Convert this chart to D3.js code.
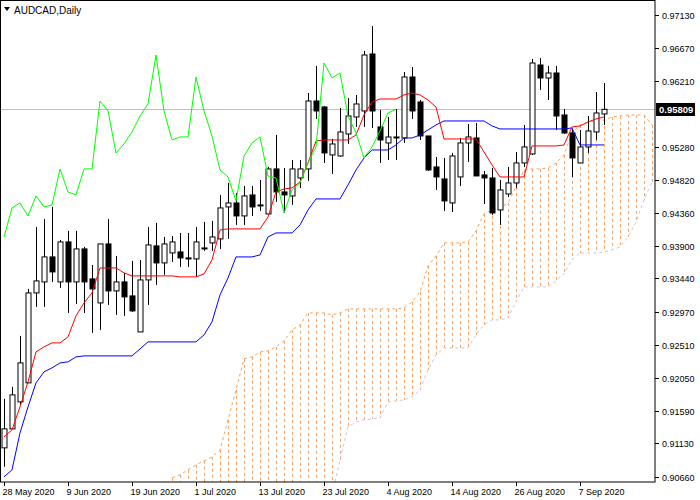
<!DOCTYPE html>
<html>
<head>
<meta charset="utf-8">
<script src="https://cdn.jsdelivr.net/npm/d3@7"></script>
<style>
  body { margin: 0; background: #fff; }
  svg { display: block; font-family: "Liberation Sans", Arial, sans-serif; }
</style>
</head>
<body>
<svg width="700" height="500"></svg>
<script>
// daily AUDCAD candles
const open = [.91068,.91334,.91712,.91978,.93238,.93392,.93742,.93392,.93952,.93392,.93854,.93434,.93098,.93924,.93266,.93392,
  .93196,.92692,.9342,.93896,.93658,.93798,.93812,.93728,.93714,.93868,.93938,.93994,.94442,.94498,.94316,.9461,
  .94456,.94344,.94974,.94652,.94596,.94848,.94974,.95926,.95842,.9517,.95156,.95464,.95702,.95786,.96584,.95562,
  .95338,.95422,.95408,.96262,.95912,.95436,.95002,.94834,.94498,.94862,.95338,.95408,.9489,.94848,.944,.94624,
  .94778,.95058,.95184,.9643,.96248,.96318,.9573,.95478,.95058,.95282,.95492,.95744];
const close = [.91334,.9181,.92258,.93238,.93406,.93742,.93532,.93952,.93392,.93854,.93392,.93294,.93924,.93266,.93392,.93182,
  .92986,.9342,.9391,.93658,.93924,.93952,.93728,.93714,.93952,.93868,.94022,.94428,.94498,.94316,.94596,.94442,
  .9447,.94974,.94652,.94610,.94974,.94974,.95926,.95786,.95198,.95324,.95492,.95716,.95884,.9657,.95786,.9538,
  .95422,.95422,.96262,.95786,.95436,.9496,.94862,.94526,.95156,.95338,.95422,.94876,.94848,.94358,.9468,.94778,
  .95058,.95282,.96458,.96248,.96318,.95716,.95478,.95128,.95282,.95506,.95758,.95809];
const high = [.91754,.91922,.92636,.93294,.94162,.94274,.94442,.9398,.94106,.94106,.93882,.9363,.93924,.94274,.93756,.93518,
  .93686,.937,.94162,.94218,.94022,.94036,.94078,.94078,.94162,.94232,.94246,.9461,.94778,.94638,.94736,.94736,
  .9482,.95002,.9545,.94988,.951,.951,.96038,.96416,.95856,.95394,.95828,.95968,.9601,.96626,.96976,.958,
  .95702,.95814,.96332,.96402,.9594,.9496,.95142,.95128,.95198,.95408,.95604,.95618,.94946,.94988,.9482,.95002,
  .95212,.9559,.96514,.96528,.96416,.96416,.95814,.95534,.9552,.95716,.96052,.96178];
const low = [.90802,.91334,.9167,.91978,.93042,.93042,.93392,.93308,.92958,.93084,.92958,.92678,.9272,.9307,.9293,.92916,
  .92972,.92692,.9307,.9335,.9349,.93672,.93602,.93602,.93462,.93826,.93826,.93854,.93994,.9419,.9419,.94316,
  .94386,.94344,.94512,.94358,.9447,.94708,.94806,.95674,.95058,.94904,.95142,.95324,.95562,.95562,.95548,.95058,
  .951,.951,.95338,.95674,.9538,.94946,.9468,.94386,.94372,.94736,.95072,.94876,.94484,.9433,.9419,.94582,
  .94708,.95002,.9517,.9608,.9594,.9552,.95464,.94862,.95058,.95198,.9538,.9559];

// ichimoku lines as shown (tenkan / kijun per bar)
const tenkan = [.91222,.9132,.91642,.91992,.92412,.92482,.92538,.92538,.92622,.92916,.93098,.93238,.93588,.93588,.93588,.93518,
  .93476,.93476,.93476,.93476,.93476,.93476,.93462,.93462,.93462,.93504,.937,.9412,.94134,.94134,.94134,.94134,
  .94134,.94302,.94652,.94694,.94708,.94792,.95058,.95366,.9538,.9538,.9538,.9538,.9545,.9573,.95912,.95954,
  .95954,.95954,.9601,.96038,.9601,.9594,.95842,.95394,.95394,.95394,.95394,.95394,.95212,.9503,.94862,.94862,
  .94862,.94862,.95296,.95296,.95296,.95296,.9531,.95562,.95576,.95632,.95674,.95702];
const kijun = [.90662,.9076,.91278,.91642,.91978,.92132,.92188,.92258,.92272,.92342,.92356,.92356,.92356,.92356,.92356,.92356,
  .92356,.92454,.92552,.92552,.92552,.92552,.92552,.92552,.92552,.9265,.92832,.9321,.93448,.93742,.93742,.93742,
  .9377,.94022,.94078,.94078,.94078,.9419,.944,.94554,.94554,.94554,.94554,.9475,.9496,.95128,.9524,.9524,
  .9524,.9531,.95408,.95408,.9545,.9552,.9559,.95646,.95646,.95646,.95646,.95646,.95646,.95576,.95534,.95534,
  .95534,.95534,.95534,.95534,.95534,.95534,.95534,.95548,.9531,.9531,.9531,.9531];
// senkou spans, already shifted forward; first value sits on bar 21
const spanStart = 21;
const spanA = [.90648,.9069,.9076,.9083,.90886,.90942,.9104,.9146,.9188,.92314,.92342,.92412,.92426,.92482,.92566,.9272,
  .9279,.92958,.92958,.92958,.9293,.92958,.93014,.93014,.93014,.93014,.93014,.93014,.93014,.93028,.93112,.93252,
  .93616,.93756,.93938,.93938,.93938,.93952,.94106,.94344,.944,.94428,.94498,.94722,.9496,.94974,.94974,.94988,
  .95058,.9517,.95478,.9559,.95632,.95646,.9566,.95702,.95716,.9573,.9573,.9573,.9559];
const spanB = [.904,.904,.904,.904,.904,.904,.904,.904,.904,.904,.904,.904,.904,.904,.904,.904,
  .904,.904,.904,.904,.904,.909,.91362,.91432,.9146,.91474,.91488,.91712,.91726,.9174,.91782,.9188,
  .9216,.9237,.92468,.92468,.92468,.92468,.9265,.9279,.9286,.9286,.92888,.93112,.93322,.93322,.93322,.93322,
  .93406,.93504,.937,.93798,.93798,.93798,.93812,.9384,.93882,.94022,.94232,.9454,.94792];

const priceTicks = [.97130,.96670,.96210,.95280,.94820,.94360,.93900,.93440,.92970,.92510,.92050,.91590,.91130,.90660];
const dateLabels = [[0,"28 May 2020"],[8,"9 Jun 2020"],[16,"19 Jun 2020"],[24,"1 Jul 2020"],[32,"13 Jul 2020"],
  [40,"23 Jul 2020"],[48,"4 Aug 2020"],[56,"14 Aug 2020"],[64,"26 Aug 2020"],[72,"7 Sep 2020"]];
const lastPrice = 0.95809;

const svg = d3.select("svg");
const plotW = 655, plotH = 482;
const n = close.length;

const x = d3.scaleLinear().domain([0, 1]).range([4, 12]);
const y = d3.scaleLinear().domain([0.90660, 0.97130]).range([477, 15]);

const chikou = d3.range(26, n).map(i => ({ i: i - 26, v: close[i] }));
const aPts = spanA.map((v, k) => ({ i: k + spanStart, v: v }));
const bPts = spanB.map((v, k) => ({ i: k + spanStart, v: v }));

svg.append("defs").append("clipPath").attr("id", "clip")
    .append("rect").attr("x", 0).attr("y", 0).attr("width", plotW).attr("height", plotH);
const g = svg.append("g").attr("clip-path", "url(#clip)");

// cloud hatching
const hatch = g.append("g");
aPts.forEach((a, k) => {
    const xx = Math.round(x(a.i)) + 0.5;
    hatch.append("line")
        .attr("x1", xx).attr("x2", xx)
        .attr("y1", y(a.v)).attr("y2", y(bPts[k].v))
        .attr("stroke", "#f4a460")
        .attr("stroke-dasharray", "3,3");
});
const lineGen = d3.line().x(d => x(d.i)).y(d => y(d.v));
g.append("path").datum(aPts).attr("d", lineGen).attr("fill", "none")
    .attr("stroke", "#f4a460").attr("stroke-dasharray", "3,3");
g.append("path").datum(bPts).attr("d", lineGen).attr("fill", "none")
    .attr("stroke", "#d8bfd8").attr("stroke-dasharray", "3,3");

// last price line
g.append("line").attr("x1", 0).attr("x2", plotW)
    .attr("y1", Math.round(y(lastPrice)) + 0.5).attr("y2", Math.round(y(lastPrice)) + 0.5)
    .attr("stroke", "#c0c0c0");

// candles
const cg = g.append("g");
d3.range(n).forEach(i => {
    const cx = Math.round(x(i)) + 0.5;
    cg.append("line").attr("x1", cx).attr("x2", cx)
        .attr("y1", y(high[i])).attr("y2", y(low[i])).attr("stroke", "#000");
    const up = close[i] >= open[i];
    const top = y(Math.max(open[i], close[i])), bot = y(Math.min(open[i], close[i]));
    cg.append("rect").attr("x", cx - 2.5).attr("width", 5)
        .attr("y", top).attr("height", Math.max(1, bot - top))
        .attr("fill", up ? "#fff" : "#000").attr("stroke", "#000");
});

// indicator lines
const series = (arr) => arr.map((v, i) => ({ i: i, v: v }));
g.append("path").datum(series(kijun)).attr("d", lineGen).attr("fill", "none").attr("stroke", "#0000ff");
g.append("path").datum(series(tenkan)).attr("d", lineGen).attr("fill", "none").attr("stroke", "#ff0000");
g.append("path").datum(chikou).attr("d", lineGen).attr("fill", "none").attr("stroke", "#00ff00");

// frame
svg.append("rect").attr("x", 0.5).attr("y", 0.5).attr("width", plotW - 0.5).attr("height", plotH - 0.5)
    .attr("fill", "none").attr("stroke", "#000");

// price axis
priceTicks.forEach(p => {
    const yy = Math.round(y(p)) + 0.5;
    svg.append("line").attr("x1", plotW).attr("x2", plotW + 4).attr("y1", yy).attr("y2", yy).attr("stroke", "#000");
    svg.append("text").attr("x", plotW + 7).attr("y", yy + 3).attr("font-size", 9).text(p.toFixed(5));
});
const ly = Math.round(y(lastPrice));
svg.append("rect").attr("x", plotW + 1).attr("y", ly - 6).attr("width", 39).attr("height", 13).attr("fill", "#000");
svg.append("text").attr("x", plotW + 4).attr("y", ly + 4).attr("font-size", 9.5).attr("fill", "#fff")
    .attr("font-weight", "bold").text(lastPrice.toFixed(5));

// date axis
dateLabels.forEach(([i, t]) => {
    const xx = Math.round(x(i)) + 0.5;
    svg.append("line").attr("x1", xx).attr("x2", xx).attr("y1", plotH).attr("y2", plotH + 4).attr("stroke", "#000");
    svg.append("text").attr("x", xx - 2).attr("y", plotH + 13).attr("font-size", 9).text(t);
});

// title
svg.append("path").attr("d", "M4,7 L10,7 L7,11 Z").attr("fill", "#000");
svg.append("text").attr("x", 14).attr("y", 14).attr("font-size", 10).text("AUDCAD,Daily");
</script>
</body>
</html>
